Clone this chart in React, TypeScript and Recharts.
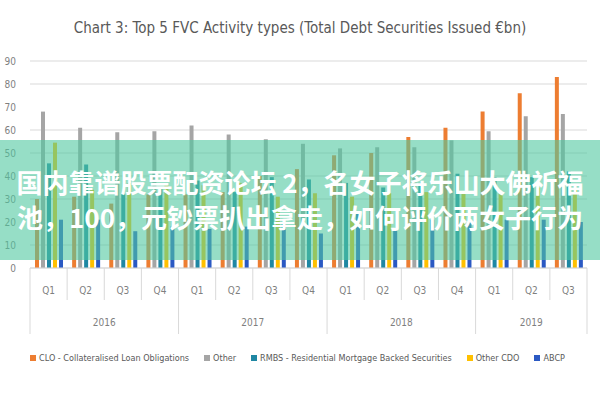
import { BarChart, Bar, XAxis, YAxis, CartesianGrid, Legend } from 'recharts';

const quarters = ['Q1', 'Q2', 'Q3', 'Q4', 'Q1', 'Q2', 'Q3', 'Q4', 'Q1', 'Q2', 'Q3', 'Q4', 'Q1', 'Q2', 'Q3'];
const years = ['2016', '2016', '2016', '2016', '2017', '2017', '2017', '2017', '2018', '2018', '2018', '2018', '2019', '2019', '2019'];

const clo = [30, 31, 28, 32, 32, 33, 40, 43, 49, 50, 57, 61, 68, 76, 83];
const other = [68, 61, 59, 59.5, 62, 58, 56, 54, 52, 52.5, 52.5, 55.5, 59.5, 66, 67];
const rmbs = [45.5, 45, 32, 35, 38, 33, 39.5, 38.5, 37, 35, 37, 41, 39.5, 39.5, 42];
const otherCdo = [54.5, 34, 37, 36, 36, 37, 31, 32.5, 31, 32.5, 33, 32.5, 33, 35, 34];
const abcp = [21, 21, 16, 18, 17, 18, 19.5, 15, 24, 16.5, 21, 21, 21, 21, 20];

const yTicks = [0, 10, 20, 30, 40, 50, 60, 70, 80, 90];

const series = [
  { key: 'clo', name: 'CLO - Collateralised Loan Obligations', color: '#ed7d31' },
  { key: 'other', name: 'Other', color: '#a5a5a5' },
  { key: 'rmbs', name: 'RMBS - Residential Mortgage Backed Securities', color: '#1f87a3' },
  { key: 'otherCdo', name: 'Other CDO', color: '#ffc000' },
  { key: 'abcp', name: 'ABCP', color: '#2b59c3' },
];

const data = quarters.map((q, i) => ({
  q: `${years[i]}-${q}`,
  clo: clo[i],
  other: other[i],
  rmbs: rmbs[i],
  otherCdo: otherCdo[i],
  abcp: abcp[i],
}));

const FONT = '"DejaVu Sans Condensed", "Open Sans", sans-serif';
const W = 600;
const H = 400;
const MARGIN = { top: 61, right: 13, left: 8, bottom: 32 };
const Y_AXIS_W = 22;
const BAND = (W - MARGIN.left - MARGIN.right - Y_AXIS_W) / quarters.length;

// two-level category labels: quarter + year, with Excel style separators
const QuarterTick = (props: any) => {
  const { x, y, payload } = props;
  const i = payload.index;
  const half = BAND / 2;
  const yearStart = i === 0 || years[i] !== years[i - 1];
  const last = i === quarters.length - 1;
  let yearLabel = null;
  if (yearStart) {
    let j = i;
    while (j + 1 < years.length && years[j + 1] === years[i]) j++;
    yearLabel = (
      <text x={x + (j - i) * half} y={y + 58} textAnchor="middle" fontSize={10} fill="#7f7f7f" fontFamily={FONT}>
        {years[i]}
      </text>
    );
  }
  return (
    <g>
      <line x1={x - half} x2={x - half} y1={y} y2={yearStart ? y + 66 : y + 32} stroke="#d9d9d9" />
      {last && <line x1={x + half} x2={x + half} y1={y} y2={y + 66} stroke="#d9d9d9" />}
      <text x={x} y={y + 26} textAnchor="middle" fontSize={10} fill="#7f7f7f" fontFamily={FONT}>
        {quarters[i]}
      </text>
      {yearLabel}
    </g>
  );
};

const LegendContent = () => (
  <div style={{ display: 'flex', justifyContent: 'center', gap: 15, fontSize: 9, lineHeight: '20px', color: '#595959', fontFamily: FONT, whiteSpace: 'nowrap' }}>
    {series.map((s) => (
      <span key={s.key} style={{ display: 'inline-flex', alignItems: 'center' }}>
        <span style={{ width: 6, height: 6, background: s.color, marginRight: 3, display: 'inline-block' }} />
        {s.name}
      </span>
    ))}
  </div>
);

export default function App() {
  return (
    <div style={{ position: 'absolute', left: 0, top: 0, width: W, height: H, background: '#fff', fontFamily: FONT }}>
      <div
        style={{
          position: 'absolute',
          top: 18,
          left: 0,
          width: W,
          textAlign: 'center',
          fontSize: 15,
          color: '#595959',
          lineHeight: '20px',
        }}
      >
        Chart 3: Top 5 FVC Activity types (Total Debt Securities Issued €bn)
      </div>
      <BarChart width={W} height={H} data={data} margin={MARGIN} barSize={4} barGap={2}>
        <CartesianGrid vertical={false} stroke="#d9d9d9" />
        <XAxis
          dataKey="q"
          interval={0}
          height={80}
          tickLine={false}
          tickSize={0}
          tickMargin={0}
          axisLine={{ stroke: '#d9d9d9' }}
          tick={<QuarterTick />}
        />
        <YAxis
          domain={[0, 90]}
          ticks={yTicks}
          width={Y_AXIS_W}
          axisLine={false}
          tickLine={false}
          tickMargin={8}
          tick={{ fontSize: 10, fill: '#7f7f7f', fontFamily: FONT }}
        />
        <Legend content={<LegendContent />} wrapperStyle={{ height: 20 }} />
        {series.map((s) => (
          <Bar key={s.key} dataKey={s.key} name={s.name} fill={s.color} isAnimationActive={false} />
        ))}
      </BarChart>
      <div
        style={{
          position: 'absolute',
          top: 140,
          left: 0,
          width: W,
          height: 120,
          background: 'rgba(80, 200, 160, 0.6)',
          color: '#fff',
          fontFamily: '"Noto Sans CJK SC", sans-serif',
          fontWeight: 700,
          fontSize: 26,
          lineHeight: '35px',
          textAlign: 'center',
          paddingTop: 24,
          boxSizing: 'border-box',
        }}
      >
        <div>国内靠谱股票配资论坛 2，名女子将乐山大佛祈福</div>
        <div>池，100，元钞票扒出拿走，如何评价两女子行为</div>
      </div>
    </div>
  );
}
